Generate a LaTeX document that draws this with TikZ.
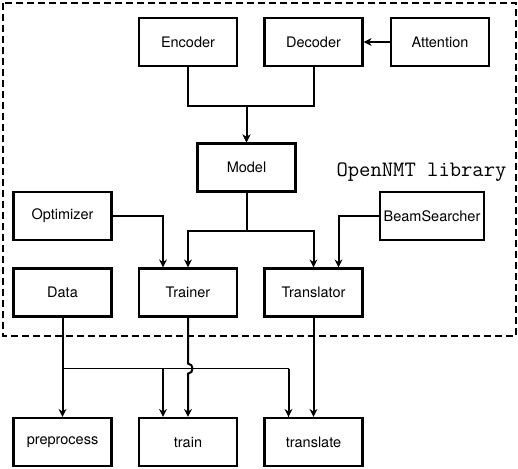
\documentclass[tikz,border=0pt]{standalone}
\usepackage{fontspec}
\setmainfont{TeX Gyre Heros}
\usetikzlibrary{arrows.meta}

\begin{document}
\begin{tikzpicture}[x=1pt, y=-1pt,
box/.style={draw, line width=2.2pt, minimum width=98pt, minimum height=48pt, font=\fontsize{14.5}{16}\selectfont},
conn/.style={line width=2pt, -{Stealth[length=8pt,width=8pt]}},
plain/.style={line width=2pt}]
\useasboundingbox (0,0) rectangle (518,468);
\draw[line width=2.8pt, dash pattern=on 7pt off 4pt] (3,3) rectangle (516,336);
\node[anchor=base] (lib) at (421.5,176) {\fontsize{22}{24}\selectfont\ttfamily OpenNMT library};
\node[box] (enc) at (188,42) {Encoder};
\node[box] (dec) at (313.5,42) {Decoder};
\node[box] (att) at (440,42) {Attention};
\node[box] (model) at (246.5,167.5) {Model};
\node[box] (opt) at (62.5,216) {Optimizer};
\node[box] (beam) at (432,216) {BeamSearcher};
\node[box] (data) at (62.5,292.5) {Data};
\node[box] (trainer) at (188,292.5) {Trainer};
\node[box] (translator) at (313.5,292.5) {Translator};
\node[box] (prep) at (62.5,442) {preprocess};
\node[box] (train) at (188,442) {train};
\node[box] (translate) at (313.5,442) {translate};
\draw[conn] (enc.south) -- ++(0,39) -| (model.north);
\draw[conn] (dec.south) -- ++(0,39) -| (model.north);
\draw[conn, line width=1.4pt] (att.west) -- (dec.east);
\draw[conn] (model.south) -- ++(0,38) -| (trainer.north);
\draw[conn] (model.south) -- ++(0,38) -| (translator.north);
\coordinate (optin) at ([xshift=-25pt]trainer.north);
\coordinate (beamin) at ([xshift=25pt]translator.north);
\draw[conn] (opt.east) -| (optin);
\draw[conn] (beam.west) -| (beamin);
\draw[conn] (data.south) -- (prep.north);
\coordinate (split) at ([yshift=-51pt]data.south);
\coordinate (trainin) at ([xshift=-25pt]train.north);
\coordinate (translatein) at ([xshift=-25pt]translate.north);
\coordinate (hop) at (trainer.south |- split);
\draw[plain, line width=1.6pt] (split) -| (translatein);
\draw[conn] (translatein |- split) -- (translatein);
\draw[conn] (trainin |- split) -- (trainin);
\draw[conn] (trainer.south) -- ([yshift=5pt]hop) .. controls +(6pt,0) and +(6pt,0) .. ([yshift=-5pt]hop) -- (train.north);
\draw[conn] (translator.south) -- (translate.north);
\end{tikzpicture}
\end{document}
